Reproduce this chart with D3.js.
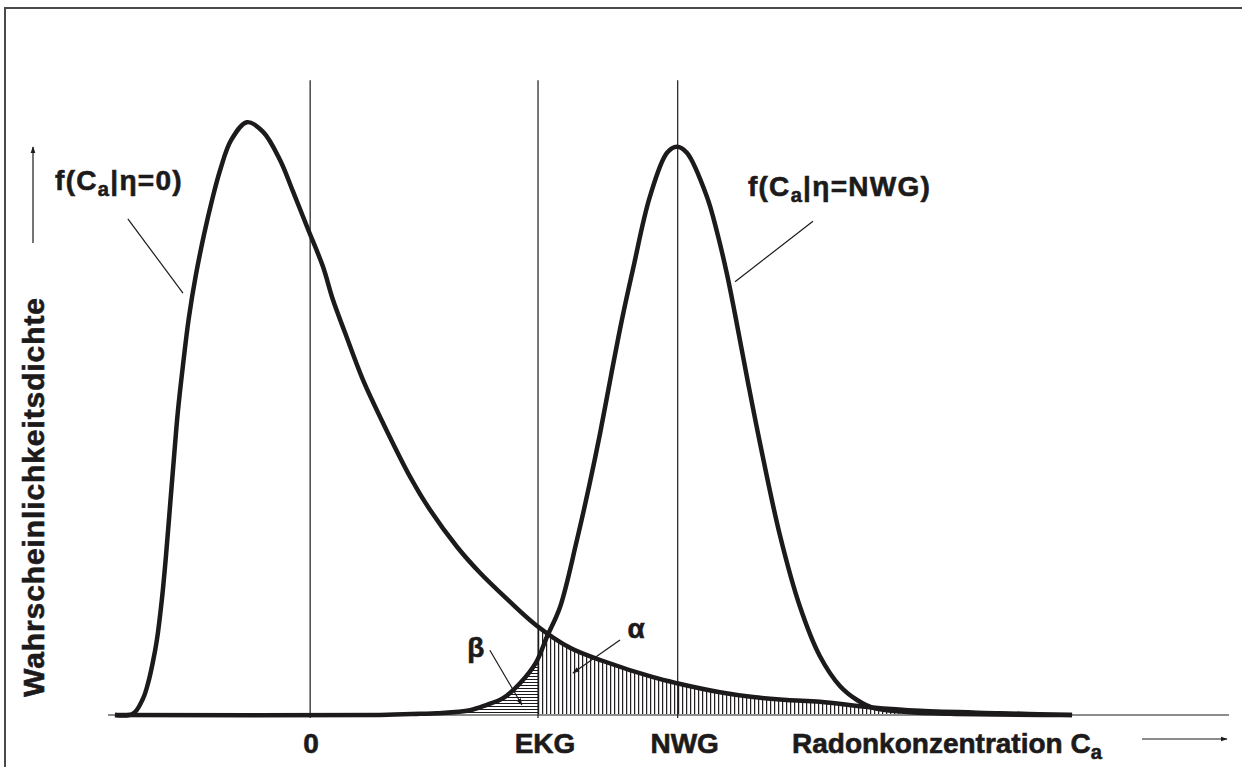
<!DOCTYPE html>
<html>
<head>
<meta charset="utf-8">
<title>Erkennungsgrenze und Nachweisgrenze</title>
<style>
body { margin: 0; background: #fff; }
.lbl { font-family: "Liberation Sans", Arial, sans-serif;
       font-weight: bold;
       font-size: 28px;
       fill: #1c1a1a;
       stroke: #1c1a1a;
       stroke-width: 0.6px; }
.curve { fill: none; stroke: #1c1a1a; stroke-width: 4.5; stroke-linejoin: round; }
.marker { stroke: #1c1a1a; stroke-width: 1.2; }
.lead { stroke: #1c1a1a; stroke-width: 1.2; fill: none; }
</style>
<script src="https://d3js.org/d3.v7.min.js"></script>
</head>
<body>
<script>
// density f(Ca | eta = 0) (x: concentration units, y: density units)
var blankX = [-53.1, -48.2, -45.5, -44.1, -42.8, -41.7, -40.3, -39.2, -38.1, -37.0, -36.0, -34.6,
              -33.0, -31.1, -28.9, -26.7, -24.5, -21.5, -17.2, -12.8, -8.2, -4.7, -0.6, 3.5,
              6.2, 9.5, 14.4, 19.8, 27.2, 32.6, 40.0, 46.2, 53.6, 61.4, 70.7, 79.7, 93.3, 99.8,
              111.5, 120.5, 129.7, 138.7, 152.3, 165.9, 187.7, 207.3];
var blankY = [0, 0.2, 2.7, 5.3, 8.8, 12.5, 19.5, 26.7, 35.0, 43.3, 50.5, 58.3,
              66.2, 73.3, 80.0, 85.8, 90.8, 95.8, 98.8, 97.2, 92.5, 87.3, 81.0, 74.7,
              69.2, 63.7, 55.8, 48.7, 39.7, 34.2, 28.0, 23.7, 19.3, 15.0, 11.2, 9.0, 6.3, 5.3,
              3.8, 3.0, 2.5, 2.2, 1.3, 0.7, 0.3, 0];

// density f(Ca | eta = NWG)
var nwgX = [-53.1, 19.0, 29.9, 34.5, 43.5, 48.1, 52.5, 57.1, 61.4, 64.4, 68.0, 72.6, 76.1, 78.9,
            81.9, 84.8, 87.8, 92.4, 97.1, 99.8, 102.5, 108.0, 110.7, 113.4, 115.6, 119.1, 122.4,
            127.8, 133.3, 138.7, 144.2, 148.8, 153.1, 162.4, 174.1, 207.3];
var nwgY = [0, 0, 0.2, 0.3, 0.8, 1.7, 2.8, 5.3, 8.7, 13.0, 18.0, 29.2, 38.7, 47.0,
            56.7, 65.8, 74.2, 86.3, 93.7, 94.7, 93.7, 86.3, 80.5, 73.5, 66.8, 55.5, 45.3,
            30.0, 18.0, 9.8, 4.8, 2.5, 1.2, 0.5, 0.2, 0];

var markerNames = ["0", "EKG", "NWG"];
var markerValues = [0, 62, 100];

var xTitle = "Radonkonzentration C";
var yTitle = "Wahrscheinlichkeitsdichte";

var blank = blankX.map(function(d, i) { return [d, blankY[i]]; });
var nwg = nwgX.map(function(d, i) { return [d, nwgY[i]]; });
var ekg = markerValues[1];

var W = 1242, H = 767;
var x = d3.scaleLinear().domain([-55, 250]).range([108, 1229]);
var y = d3.scaleLinear().domain([0, 100]).range([715, 115]);

var svg = d3.select("body").append("svg")
            .attr("width", W)
            .attr("height", H);

var defs = svg.append("defs");

defs.append("marker")
    .attr("id", "head")
    .attr("viewBox", "0 0 10 10")
    .attr("refX", 9).attr("refY", 5)
    .attr("markerWidth", 6).attr("markerHeight", 6)
    .attr("orient", "auto")
  .append("path")
    .attr("d", "M0,1.5 L10,5 L0,8.5 z")
    .attr("fill", "#1c1a1a");

// alpha hatch: vertical lines, beta hatch: horizontal lines
defs.append("pattern")
    .attr("id", "vhatch")
    .attr("patternUnits", "userSpaceOnUse")
    .attr("x", x(ekg)).attr("y", 0)
    .attr("width", 4).attr("height", 10)
  .append("line")
    .attr("x1", 0.6).attr("x2", 0.6).attr("y1", 0).attr("y2", 10)
    .attr("stroke", "#1c1a1a").attr("stroke-width", 1.2);

defs.append("pattern")
    .attr("id", "hhatch")
    .attr("patternUnits", "userSpaceOnUse")
    .attr("x", 0).attr("y", y(0))
    .attr("width", 10).attr("height", 3)
  .append("line")
    .attr("x1", 0).attr("x2", 10).attr("y1", 0.5).attr("y2", 0.5)
    .attr("stroke", "#1c1a1a").attr("stroke-width", 1);

defs.append("clipPath").attr("id", "rightOfEkg")
  .append("rect")
    .attr("x", x(ekg)).attr("y", 0)
    .attr("width", W).attr("height", H);

defs.append("clipPath").attr("id", "leftOfEkg")
  .append("rect")
    .attr("x", 0).attr("y", 0)
    .attr("width", x(ekg)).attr("height", H);

// frame
svg.append("rect")
   .attr("x", 5).attr("y", 8)
   .attr("width", W + 40).attr("height", H + 40)
   .attr("fill", "none")
   .attr("stroke", "#4a4a4a")
   .attr("stroke-width", 2);

var curve = d3.curveCatmullRom.alpha(0.5);
var area = d3.area()
             .x(function(d) { return x(d[0]); })
             .y0(y(0))
             .y1(function(d) { return y(d[1]); })
             .curve(curve);
var line = d3.line()
             .x(function(d) { return x(d[0]); })
             .y(function(d) { return y(d[1]); })
             .curve(curve);

// hatched areas
svg.append("path")
   .datum(blank)
   .attr("d", area)
   .attr("fill", "url(#vhatch)")
   .attr("clip-path", "url(#rightOfEkg)");
svg.append("path")
   .datum(nwg)
   .attr("d", area)
   .attr("fill", "url(#hhatch)")
   .attr("clip-path", "url(#leftOfEkg)");

// baseline
svg.append("line")
   .attr("x1", x.range()[0]).attr("x2", x.range()[1])
   .attr("y1", y(0)).attr("y2", y(0))
   .attr("stroke", "#8c8c8c")
   .attr("stroke-width", 2);

// vertical markers 0, EKG, NWG
svg.selectAll(".marker")
   .data(markerValues)
   .enter().append("line")
   .attr("class", "marker")
   .attr("x1", function(d) { return x(d); })
   .attr("x2", function(d) { return x(d); })
   .attr("y1", y(105.8))
   .attr("y2", y(-0.5));

svg.selectAll(".tick")
   .data(markerNames)
   .enter().append("text")
   .attr("class", "lbl tick")
   .attr("x", function(d, i) { return x(markerValues[i]) + (i ? 7 : 1); })
   .attr("y", 753)
   .attr("text-anchor", "middle")
   .text(function(d) { return d; });

// density curves
svg.append("path").datum(blank).attr("class", "curve").attr("d", line);
svg.append("path").datum(nwg).attr("class", "curve").attr("d", line);

// curve labels with leader lines
function curveLabel(px, py, rest) {
    var t = svg.append("text").attr("class", "lbl")
               .attr("x", x(px)).attr("y", y(py))
               .style("letter-spacing", "1.3px");
    t.append("tspan").text("f(C");
    t.append("tspan").attr("font-size", 20).attr("dy", 6).text("a");
    t.append("tspan").attr("dy", -6).text(rest);
}
curveLabel(-69.4, 87.5, "|\u03b7=0)");
curveLabel(119.1, 86.5, "|\u03b7=NWG)");

function lead(x1, y1, x2, y2, arrow) {
    var l = svg.append("line").attr("class", "lead")
               .attr("x1", x(x1)).attr("y1", y(y1))
               .attr("x2", x(x2)).attr("y2", y(y2));
    if (arrow) l.attr("marker-end", "url(#head)");
}
lead(-49.6, 82.7, -34.6, 70.3, false);
lead(136.8, 82.3, 115.6, 72.2, false);
lead(48.9, 10.8, 57.6, 1.7, true);
lead(84.3, 12.5, 71.5, 7.0, true);

svg.append("text").attr("class", "lbl")
   .attr("x", x(45.1)).attr("y", y(9.7))
   .attr("text-anchor", "middle")
   .text("\u03b2");
svg.append("text").attr("class", "lbl")
   .attr("x", x(88.7)).attr("y", y(12.8))
   .attr("text-anchor", "middle")
   .text("\u03b1");

// axis titles and arrows
var xt = svg.append("text").attr("class", "lbl")
            .attr("x", 792).attr("y", 753);
xt.append("tspan").text(xTitle);
xt.append("tspan").attr("font-size", 20).attr("dy", 6).text("a");

svg.append("line").attr("class", "lead")
   .attr("x1", 1142).attr("y1", 739).attr("x2", 1227).attr("y2", 739)
   .attr("marker-end", "url(#head)");

svg.append("text").attr("class", "lbl")
   .attr("transform", "translate(44,497) rotate(-90)")
   .attr("text-anchor", "middle")
   .style("font-size", "30px")
   .style("letter-spacing", "0.9px")
   .text(yTitle);

svg.append("line").attr("class", "lead")
   .attr("x1", 33).attr("y1", 243).attr("x2", 33).attr("y2", 147)
   .attr("marker-end", "url(#head)");
</script>
</body>
</html>
